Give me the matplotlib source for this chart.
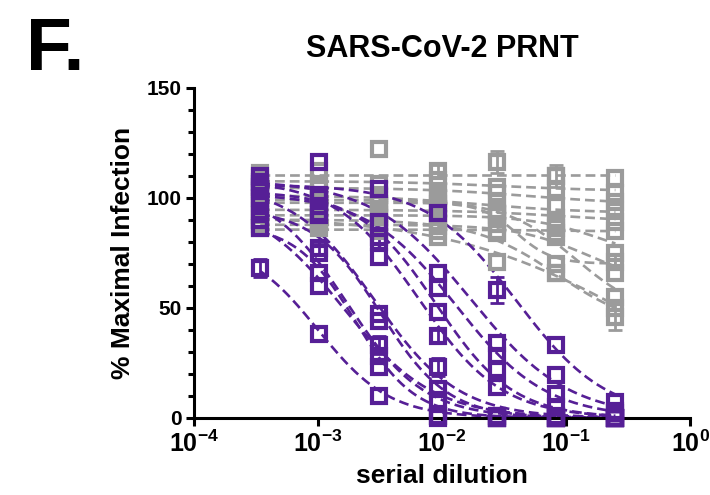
import matplotlib
matplotlib.use("Agg")
import matplotlib.pyplot as plt
import numpy as np

plt.rcParams['font.family'] = ['Liberation Sans', 'DejaVu Sans']
plt.rcParams['font.weight'] = 'bold'
plt.rcParams['mathtext.fontset'] = 'custom'
plt.rcParams['mathtext.bf'] = 'Liberation Sans:bold'
plt.rcParams['mathtext.rm'] = 'Liberation Sans:bold'

# dilutions (3-fold series)
dilution = [1/2916, 1/972, 1/324, 1/108, 1/36, 1/12, 1/4]

# purple samples: points (% maximal infection) and error
purple_vals = [
    [68, 38, 10, 1, 0, 0, 0],
    [100, 66, 28, 8, 0, 0, 0],
    [105, 77, 47, 13, 1, 0, 0],
    [94, 60, 33, 1, 0, 0, 0],
    [110, 93, 73, 37, 14, 1, 0],
    [103, 96, 82, 48, 22, 5, 0],
    [98, 101, 80, 59, 28, 11, 2],
    [107, 116, 89, 66, 34, 19.5, 3],
    [106, 100, 104, 93, 58, 33, 7],
    [90, 92, 44, 23, 1, 0, 0],
    [86, 75, 23, 0, 0, 0, 0],
]
purple_err = [
    [4, 0, 0, 0, 0, 0, 0],
    [0, 0, 0, 0, 0, 0, 0],
    [0, 3, 0, 0, 0, 0, 0],
    [0, 0, 4, 0, 0, 0, 0],
    [0, 0, 0, 3, 0, 0, 0],
    [0, 0, 3, 0, 0, 0, 0],
    [0, 0, 0, 0, 0, 0, 0],
    [0, 0, 0, 0, 0, 0, 0],
    [0, 0, 0, 0, 6, 0, 0],
    [0, 0, 0, 4, 0, 0, 0],
    [0, 0, 0, 0, 0, 0, 0],
]
# fit parameters: top, IC50, hill (bottom = 0)
purple_top = [80, 105, 106, 100, 108, 103, 102, 108, 106, 95, 88]
purple_ic50 = [1.0e-3, 1.7e-3, 2.9e-3, 1.6e-3, 6.5e-3, 9e-3, 1.3e-2, 1.7e-2, 4e-2, 3.2e-3, 2.0e-3]
purple_hill = [1.5, 1.4, 1.3, 1.2, 1.3, 1.4, 1.2, 1.1, 1.2, 1.6, 1.8]

# gray samples
gray_vals = [
    [109, 112, 122, 112, 116, 110, 109],
    [111, 104, 106, 108, 105, 110, 102],
    [104, 106, 101, 103, 102, 104, 98],
    [102, 100, 97, 99, 98, 96, 94],
    [96, 98, 99, 97, 92, 70, 71],
    [95, 94, 92, 95, 93, 90, 89],
    [92, 90, 93, 91, 92, 88, 75],
    [90, 91, 88, 89, 85, 66, 50],
    [87, 89, 86, 82, 71, 66, 46],
    [88, 86, 89, 85, 88, 82, 66],
    [86, 88, 85, 87, 84, 86, 85],
    [98, 101, 97, 100, 94, 84, 55],
]
gray_err = [
    [3, 0, 0, 3, 5, 0, 0],
    [0, 0, 0, 0, 0, 5, 0],
    [0, 0, 0, 0, 0, 0, 0],
    [0, 0, 0, 0, 0, 0, 0],
    [0, 0, 0, 0, 0, 0, 3],
    [0, 0, 0, 0, 0, 0, 0],
    [0, 0, 0, 0, 0, 0, 0],
    [0, 0, 0, 0, 0, 0, 0],
    [0, 0, 0, 0, 0, 0, 6],
    [0, 0, 0, 0, 0, 0, 0],
    [0, 0, 0, 0, 0, 0, 0],
    [0, 0, 0, 0, 0, 0, 0],
]
# fit parameters: top, bottom, IC50, hill
gray_top = [110.5, 107.5, 104.5, 101, 97.7, 94.5, 92, 90, 92, 87.7, 85.5, 99]
gray_bottom = [110.5, 103, 97, 93, 70, 88.5, 70, 40, 0, 60, 84.5, 45]
gray_ic50 = [1, 0.03, 0.05, 0.02, 0.04, 0.1, 0.2, 0.085, 0.37, 0.15, 0.1, 0.12]
gray_hill = [1, 1, 1, 1, 3, 1, 1.5, 1.3, 0.57, 1.5, 1, 1.5]

PURPLE = '#561F96'
GRAY = '#9B9B9B'


def logistic(x, top, bottom, ic50, hill):
    return bottom + (top - bottom) / (1 + (x / ic50) ** hill)


fig = plt.figure(figsize=(7.1, 4.95), dpi=100)
ax = fig.add_axes([0.273, 0.156, 0.699, 0.667])

x = np.array(dilution)
xf = np.logspace(np.log10(x[0]), np.log10(x[-1]), 200)


def draw(vals, errs, tops, bottoms, ic50s, hills, color):
    for v, e, t, b, c, h in zip(vals, errs, tops, bottoms, ic50s, hills):
        ax.plot(xf, logistic(xf, t, b, c, h), color=color, lw=1.9,
                ls=(0, (3.7, 1.9)), zorder=2)
        v = np.array(v, float)
        e = np.array(e, float)
        m = e > 0
        if m.any():
            ax.errorbar(x[m], v[m], yerr=e[m], fmt='none', ecolor=color,
                        elinewidth=2, capsize=5, capthick=2, zorder=3,
                        clip_on=False)
        ax.plot(x, v, ls='none', marker='s', ms=9.5, mew=3, mfc='none',
                mec=color, zorder=4, clip_on=False)


draw(gray_vals, gray_err, gray_top, gray_bottom, gray_ic50, gray_hill, GRAY)
draw(purple_vals, purple_err, purple_top, [0] * len(purple_top),
     purple_ic50, purple_hill, PURPLE)

ax.set_xscale('log')
ax.set_xlim(1e-4, 1)
ax.set_ylim(0, 150)
ax.set_xticks([1e-4, 1e-3, 1e-2, 1e-1, 1])
ax.set_xticklabels([r'$\mathbf{10^{-4}}$', r'$\mathbf{10^{-3}}$', r'$\mathbf{10^{-2}}$',
                    r'$\mathbf{10^{-1}}$', r'$\mathbf{10^{0}}$'])
ax.xaxis.set_minor_locator(matplotlib.ticker.NullLocator())
ax.set_yticks([0, 50, 100, 150])
ax.set_yticks(np.arange(0, 151, 10), minor=True)

for s in ['top', 'right']:
    ax.spines[s].set_visible(False)
for s in ['left', 'bottom']:
    ax.spines[s].set_linewidth(2.2)
ax.tick_params(which='major', direction='out', length=6, width=2.2,
               labelsize=15, pad=3)
ax.tick_params(axis='x', labelsize=18)
ax.tick_params(which='minor', direction='out', length=4, width=2.2)

ax.set_ylabel('% Maximal Infection', fontsize=19, fontweight='bold', labelpad=8)
ax.set_xlabel('serial dilution', fontsize=19, fontweight='bold', labelpad=5)
ax.set_title('SARS-CoV-2 PRNT', fontsize=22, fontweight='bold', pad=22)

fig.text(0.036, 0.859, 'F.', fontsize=54, fontweight='bold', ha='left',
         va='baseline')

fig.savefig('out.png', dpi=100)
